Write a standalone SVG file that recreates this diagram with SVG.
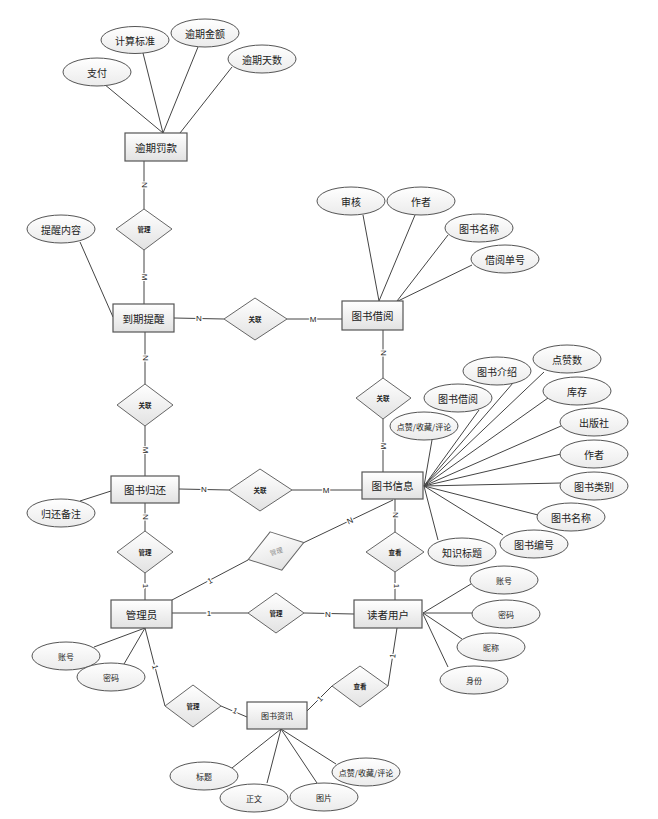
<svg xmlns="http://www.w3.org/2000/svg" width="658" height="819" viewBox="0 0 658 819">
<defs>
<linearGradient id="g" x1="0" y1="0" x2="0" y2="1"><stop offset="0" stop-color="#ffffff"/><stop offset="1" stop-color="#e2e2e2"/></linearGradient>
<linearGradient id="ge" x1="0" y1="0" x2="0" y2="1"><stop offset="0" stop-color="#ffffff"/><stop offset="1" stop-color="#ebebeb"/></linearGradient>
<style>
.ent rect{fill:url(#g);stroke:#555;stroke-width:1.2}
.att ellipse{fill:url(#ge);stroke:#555;stroke-width:1}
.rel polygon{fill:url(#g);stroke:#666;stroke-width:1}
text{font-family:"Noto Sans CJK SC","Liberation Sans",sans-serif;fill:#222;text-anchor:middle;dominant-baseline:central}
.et{font-size:10.5px}
.at{font-size:10px}
.rt{font-size:6.5px;font-weight:bold}
.rg{font-size:6.5px;fill:#888}
#conn line{stroke:#444;stroke-width:1}
.cl{font-family:"Liberation Sans",sans-serif;font-size:8px;fill:#222;stroke:#fff;stroke-width:2.5px;paint-order:stroke}
</style>
</defs>
<rect width="658" height="819" fill="#fff"/>
<g id="conn">
<line x1="104" y1="84" x2="163" y2="133"/>
<line x1="143" y1="53" x2="163" y2="133"/>
<line x1="198" y1="47" x2="163" y2="133"/>
<line x1="232" y1="67" x2="180" y2="133"/>
<line x1="80" y1="242" x2="113" y2="317"/>
<line x1="363" y1="215" x2="379" y2="301"/>
<line x1="415" y1="215" x2="379" y2="301"/>
<line x1="448" y1="235" x2="397" y2="301"/>
<line x1="472" y1="265" x2="398" y2="301"/>
<line x1="432" y1="440" x2="424" y2="486"/>
<line x1="479" y1="410" x2="424" y2="486"/>
<line x1="513" y1="383" x2="424" y2="486"/>
<line x1="544" y1="372" x2="424" y2="486"/>
<line x1="548" y1="398" x2="424" y2="486"/>
<line x1="561" y1="426" x2="424" y2="486"/>
<line x1="561" y1="454" x2="424" y2="486"/>
<line x1="561" y1="483" x2="424" y2="486"/>
<line x1="538" y1="515" x2="424" y2="486"/>
<line x1="503" y1="535" x2="424" y2="486"/>
<line x1="438" y1="540" x2="424" y2="486"/>
<line x1="80" y1="501" x2="111" y2="491"/>
<line x1="94" y1="647" x2="145" y2="628"/>
<line x1="124" y1="664" x2="145" y2="628"/>
<line x1="471" y1="584" x2="423" y2="613"/>
<line x1="472" y1="613" x2="423" y2="613"/>
<line x1="462" y1="639" x2="423" y2="613"/>
<line x1="448" y1="667" x2="423" y2="614"/>
<line x1="232" y1="768" x2="281" y2="729"/>
<line x1="267" y1="783" x2="281" y2="729"/>
<line x1="317" y1="783" x2="281" y2="729"/>
<line x1="336" y1="764" x2="281" y2="729"/>
<line x1="144" y1="161" x2="144" y2="209"/>
<line x1="144" y1="250" x2="144" y2="304"/>
<line x1="174" y1="318" x2="224" y2="319"/>
<line x1="287" y1="319" x2="342" y2="319"/>
<line x1="383" y1="330" x2="383" y2="378"/>
<line x1="383" y1="419" x2="383" y2="472"/>
<line x1="145" y1="332" x2="145" y2="384"/>
<line x1="145" y1="426" x2="145" y2="476"/>
<line x1="179" y1="489" x2="229" y2="490"/>
<line x1="292" y1="490" x2="362" y2="490"/>
<line x1="145" y1="503" x2="145" y2="531"/>
<line x1="145" y1="573" x2="145" y2="600"/>
<line x1="172" y1="600" x2="248" y2="560"/>
<line x1="303" y1="543" x2="393" y2="500"/>
<line x1="395" y1="499" x2="395" y2="532"/>
<line x1="395" y1="572" x2="395" y2="600"/>
<line x1="172" y1="613" x2="248" y2="613"/>
<line x1="304" y1="613" x2="354" y2="614"/>
<line x1="145" y1="628" x2="165" y2="706"/>
<line x1="221" y1="706" x2="247" y2="717"/>
<line x1="307" y1="711" x2="332" y2="686"/>
<line x1="388" y1="686" x2="397" y2="628"/>
<text class="cl" transform="translate(144,185) rotate(90)">N</text>
<text class="cl" transform="translate(144,277) rotate(90)">M</text>
<text class="cl" x="199" y="318">N</text>
<text class="cl" x="313" y="319">M</text>
<text class="cl" transform="translate(383,353) rotate(90)">N</text>
<text class="cl" transform="translate(383,446) rotate(90)">M</text>
<text class="cl" transform="translate(145,358) rotate(90)">N</text>
<text class="cl" transform="translate(145,450) rotate(90)">M</text>
<text class="cl" x="204" y="489">N</text>
<text class="cl" x="326" y="490">M</text>
<text class="cl" transform="translate(145,517) rotate(90)">N</text>
<text class="cl" transform="translate(145,586) rotate(90)">1</text>
<text class="cl" transform="translate(210,581) rotate(-28)">1</text>
<text class="cl" transform="translate(350,521) rotate(-25)">N</text>
<text class="cl" transform="translate(395,515) rotate(90)">N</text>
<text class="cl" transform="translate(396,586) rotate(90)">1</text>
<text class="cl" x="209" y="613">1</text>
<text class="cl" x="328" y="614">N</text>
<text class="cl" transform="translate(155,667) rotate(76)">1</text>
<text class="cl" transform="translate(235,711) rotate(23)">1</text>
<text class="cl" transform="translate(320,699) rotate(-45)">1</text>
<text class="cl" transform="translate(393,656) rotate(-81)">1</text>
</g>
<g id="e-fine" class="ent"><rect x="125" y="133" width="62" height="28"/><text class="et" x="156" y="147">逾期罚款</text></g>
<g id="e-remind" class="ent"><rect x="113" y="304" width="61" height="28"/><text class="et" x="143.5" y="318">到期提醒</text></g>
<g id="e-borrow" class="ent"><rect x="342" y="301" width="61" height="29"/><text class="et" x="372.5" y="315.5">图书借阅</text></g>
<g id="e-book" class="ent"><rect x="362" y="472" width="61" height="27"/><text class="et" x="392.5" y="485.5">图书信息</text></g>
<g id="e-return" class="ent"><rect x="111" y="476" width="68" height="27"/><text class="et" x="145" y="489.5">图书归还</text></g>
<g id="e-admin" class="ent"><rect x="111" y="600" width="61" height="28"/><text class="et" x="141.5" y="614">管理员</text></g>
<g id="e-reader" class="ent"><rect x="354" y="600" width="68" height="28"/><text class="et" x="388" y="614">读者用户</text></g>
<g id="e-news" class="ent"><rect x="247" y="702" width="60" height="27"/><text class="at" x="277" y="715.5" style="font-size:8px">图书资讯</text></g>
<g id="r1" class="rel"><polygon points="144,209 172,229 144,250 116,229"/><text class="rt" x="144" y="229">管理</text></g>
<g id="r2" class="rel"><polygon points="255,298 287,319 255,340 224,319"/><text class="rt" x="255" y="319">关联</text></g>
<g id="r3" class="rel"><polygon points="383,378 411,398 383,419 356,398"/><text class="rt" x="383" y="398">关联</text></g>
<g id="r4" class="rel"><polygon points="145,384 173,405 145,426 117,405"/><text class="rt" x="145" y="405">关联</text></g>
<g id="r5" class="rel"><polygon points="260,469 292,490 260,511 229,490"/><text class="rt" x="260" y="490">关联</text></g>
<g id="r6" class="rel"><polygon points="145,531 173,552 145,573 117,552"/><text class="rt" x="145" y="552">管理</text></g>
<g id="r7" class="rel" transform="rotate(-17 276 551)"><polygon points="276,531 305,551 276,571 247,551"/><text class="rg" x="276" y="551">管理</text></g>
<g id="r8" class="rel"><polygon points="276,593 304,613 276,633 248,613"/><text class="rt" x="276" y="613">管理</text></g>
<g id="r9" class="rel"><polygon points="395,532 424,552 395,572 366,552"/><text class="rt" x="395" y="552">查看</text></g>
<g id="r10" class="rel"><polygon points="360,666 388,686 360,707 332,686"/><text class="rt" x="360" y="686">查看</text></g>
<g id="r11" class="rel"><polygon points="193,685 221,706 193,727 165,706"/><text class="rt" x="193" y="706">管理</text></g>
<g id="a1" class="att"><ellipse cx="97" cy="72" rx="34" ry="14"/><text class="at" x="97" y="72">支付</text></g>
<g id="a2" class="att"><ellipse cx="135" cy="40" rx="34" ry="13.5"/><text class="at" x="135" y="40">计算标准</text></g>
<g id="a3" class="att"><ellipse cx="205" cy="33" rx="34" ry="14"/><text class="at" x="205" y="33">逾期金额</text></g>
<g id="a4" class="att"><ellipse cx="262" cy="59" rx="34" ry="14"/><text class="at" x="262" y="59">逾期天数</text></g>
<g id="a5" class="att"><ellipse cx="61" cy="229" rx="34" ry="14"/><text class="at" x="61" y="229">提醒内容</text></g>
<g id="a6" class="att"><ellipse cx="351" cy="201" rx="34" ry="14"/><text class="at" x="351" y="201">审核</text></g>
<g id="a7" class="att"><ellipse cx="421" cy="201" rx="34" ry="14"/><text class="at" x="421" y="201">作者</text></g>
<g id="a8" class="att"><ellipse cx="479" cy="228" rx="34" ry="14"/><text class="at" x="479" y="228">图书名称</text></g>
<g id="a9" class="att"><ellipse cx="505" cy="259" rx="34" ry="14"/><text class="at" x="505" y="259">借阅单号</text></g>
<g id="a10" class="att"><ellipse cx="424" cy="426" rx="34" ry="14"/><text class="at" x="424" y="426" style="font-size:8px">点赞/收藏/评论</text></g>
<g id="a11" class="att"><ellipse cx="458" cy="398" rx="34" ry="14"/><text class="at" x="458" y="398">图书借阅</text></g>
<g id="a12" class="att"><ellipse cx="497" cy="371" rx="34" ry="14"/><text class="at" x="497" y="371">图书介绍</text></g>
<g id="a13" class="att"><ellipse cx="567" cy="359" rx="34" ry="14"/><text class="at" x="567" y="359">点赞数</text></g>
<g id="a14" class="att"><ellipse cx="577" cy="391" rx="34" ry="14"/><text class="at" x="577" y="391">库存</text></g>
<g id="a15" class="att"><ellipse cx="594" cy="422" rx="34" ry="14"/><text class="at" x="594" y="422">出版社</text></g>
<g id="a16" class="att"><ellipse cx="594" cy="454" rx="34" ry="14"/><text class="at" x="594" y="454">作者</text></g>
<g id="a17" class="att"><ellipse cx="594" cy="486" rx="34" ry="14"/><text class="at" x="594" y="486">图书类别</text></g>
<g id="a18" class="att"><ellipse cx="571" cy="517" rx="34" ry="14"/><text class="at" x="571" y="517">图书名称</text></g>
<g id="a19" class="att"><ellipse cx="534" cy="544" rx="34" ry="14"/><text class="at" x="534" y="544">图书编号</text></g>
<g id="a20" class="att"><ellipse cx="462" cy="552" rx="34" ry="14"/><text class="at" x="462" y="552">知识标题</text></g>
<g id="a21" class="att"><ellipse cx="61" cy="513" rx="34" ry="14"/><text class="at" x="61" y="513">归还备注</text></g>
<g id="a22" class="att"><ellipse cx="66" cy="656" rx="34" ry="14"/><text class="at" x="66" y="656" style="font-size:8px">账号</text></g>
<g id="a23" class="att"><ellipse cx="111" cy="677" rx="34" ry="14"/><text class="at" x="111" y="677" style="font-size:8px">密码</text></g>
<g id="a24" class="att"><ellipse cx="504" cy="580" rx="34" ry="14"/><text class="at" x="504" y="580" style="font-size:8px">账号</text></g>
<g id="a25" class="att"><ellipse cx="506" cy="614" rx="34" ry="14"/><text class="at" x="506" y="614" style="font-size:8px">密码</text></g>
<g id="a26" class="att"><ellipse cx="491" cy="647" rx="34" ry="14"/><text class="at" x="491" y="647" style="font-size:8px">昵称</text></g>
<g id="a27" class="att"><ellipse cx="474" cy="680" rx="34" ry="14"/><text class="at" x="474" y="680" style="font-size:8px">身份</text></g>
<g id="a28" class="att"><ellipse cx="204" cy="776" rx="34" ry="14"/><text class="at" x="204" y="776" style="font-size:8px">标题</text></g>
<g id="a29" class="att"><ellipse cx="254" cy="798" rx="34" ry="14"/><text class="at" x="254" y="798" style="font-size:8px">正文</text></g>
<g id="a30" class="att"><ellipse cx="324" cy="797" rx="34" ry="14"/><text class="at" x="324" y="797" style="font-size:8px">图片</text></g>
<g id="a31" class="att"><ellipse cx="366" cy="772" rx="34" ry="14"/><text class="at" x="366" y="772" style="font-size:8px">点赞/收藏/评论</text></g>
</svg>
